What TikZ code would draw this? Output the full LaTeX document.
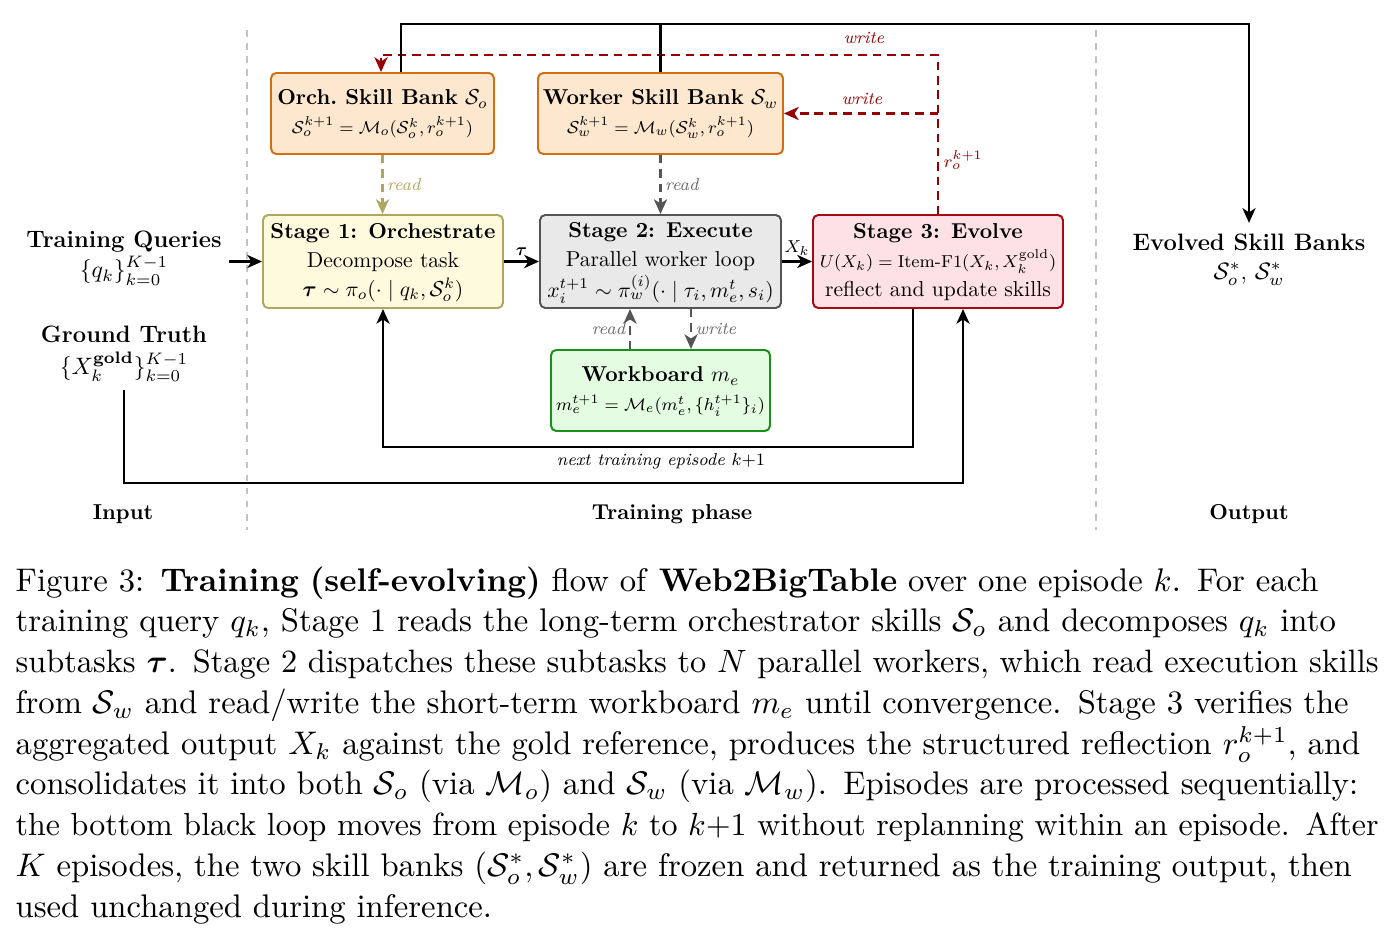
\RequirePackage{fix-cm}
\documentclass[tikz,border=0pt]{standalone}
\usepackage{amsmath,amssymb,bm,graphicx}
\usetikzlibrary{arrows.meta,calc}
\definecolor{cOrD}{RGB}{212,110,20}
\definecolor{cOrF}{RGB}{253,231,206}
\definecolor{cYeD}{RGB}{176,166,96}
\definecolor{cYeF}{RGB}{253,250,222}
\definecolor{cGrD}{RGB}{85,85,85}
\definecolor{cGrF}{RGB}{233,233,233}
\definecolor{cReD}{RGB}{165,10,20}
\definecolor{cReF}{RGB}{253,225,228}
\definecolor{cGnD}{RGB}{25,145,25}
\definecolor{cGnF}{RGB}{228,252,225}
\definecolor{cDR}{RGB}{150,0,0}
\definecolor{cLab}{RGB}{105,105,105}
\definecolor{cSep}{RGB}{195,195,195}
% diagram text: 10pt design scaled to 0.66
\newcommand{\dg}[1]{\scalebox{0.66}{\fontsize{10}{13.4}\selectfont\begin{tabular}{@{}c@{}}#1\end{tabular}}}
\newcommand{\dgo}[1]{\scalebox{0.66}{\fontsize{11}{13.4}\selectfont\begin{tabular}{@{}c@{}}#1\end{tabular}}}
\newcommand{\fs}{\fontsize{8}{13.4}\selectfont}
\newcommand{\lbl}[1]{\scalebox{0.66}{\fontsize{8}{9.6}\selectfont\itshape #1}}
\newcommand{\lblm}[1]{\scalebox{0.66}{\fontsize{8}{9.6}\selectfont #1}}
\newcommand{\capline}[1]{\setbox2=\hbox{#1}%
  \ifdim\wd2>\hsize\hbox to\hsize{\resizebox{\hsize}{!}{#1}}\else\hbox to\hsize{#1}\fi}
\tikzset{
  box/.style={draw, rounded corners=1.6pt, line width=0.6pt, inner sep=0pt},
  bsize/.style 2 args={minimum width={#1*0.3058pt}, minimum height={#2*0.3058pt}},
  orchbox/.style={box, draw=cOrD, fill=cOrF},
  yelbox/.style={box, draw=cYeD, fill=cYeF},
  graybox/.style={box, draw=cGrD, fill=cGrF},
  redbox/.style={box, draw=cReD, fill=cReF},
  grnbox/.style={box, draw=cGnD, fill=cGnF},
  outtext/.style={inner sep=2pt},
  seclab/.style={inner sep=0pt},
  blk/.style={line width=0.9pt, draw=black},
  arr/.style={-{Stealth[length=4.5pt,width=4pt,inset=1.3pt]}},
  dsh/.style={line width=0.9pt, dash pattern=on 2.6pt off 1.8pt},
  lab/.style={inner sep=1pt},
  sepline/.style={draw=cSep, line width=0.5pt, dash pattern=on 2pt off 2pt},
}
\begin{document}
\begin{tikzpicture}[x=0.3058pt,y=-0.3058pt]
\useasboundingbox (0,0) rectangle (1397,938);

% separators
\draw[sepline] (247,30) -- (247,530);
\draw[sepline] (1096,30) -- (1096,530);

% boxes
\node[orchbox, bsize={223}{81}] (orch) at (382.5,113.5)
  {\dg{\textbf{Orch.\ Skill Bank} $\mathcal{S}_o$\\{\fs $\mathcal{S}_o^{k+1}=\mathcal{M}_o(\mathcal{S}_o^{k},r_o^{k+1})$}}};
\node[orchbox, bsize={245}{81}] (worker) at (660.5,113.5)
  {\dg{\textbf{Worker Skill Bank} $\mathcal{S}_w$\\{\fs $\mathcal{S}_w^{k+1}=\mathcal{M}_w(\mathcal{S}_w^{k},r_o^{k+1})$}}};
\node[yelbox, bsize={240}{93}] (s1) at (383,261.5)
  {\dg{\textbf{Stage 1: Orchestrate}\\Decompose task\\$\boldsymbol{\tau}\sim\pi_o(\cdot\mid q_k,\mathcal{S}_o^{k})$}};
\node[graybox, bsize={241}{93}] (s2) at (660.5,261.5)
  {\dg{\textbf{Stage 2: Execute}\\Parallel worker loop\\$x_i^{t+1}\sim\pi_w^{(i)}(\cdot\mid\tau_i,m_e^{t},s_i)$}};
\node[redbox, bsize={250}{93}] (s3) at (938,261.5)
  {\dg{\textbf{Stage 3: Evolve}\\{\fs $U(X_k)=\text{Item-F1}(X_k,X_k^{\text{gold}})$}\\reflect and update skills}};
\node[grnbox, bsize={219}{81}] (wb) at (660.5,390.5)
  {\dg{\textbf{Workboard} $m_e$\\{\fs $m_e^{t+1}=\mathcal{M}_e(m_e^{t},\{h_i^{t+1}\}_i)$}}};

% outer texts
\node[outtext] (tq) at (124,257) {\dgo{\textbf{Training Queries}\\$\{q_k\}_{k=0}^{K-1}$}};
\node[outtext] (gt) at (124,353) {\dgo{\textbf{Ground Truth}\\$\{X_k^{\mathbf{gold}}\}_{k=0}^{K-1}$}};
\node[outtext] (out) at (1249,259) {\dgo{\textbf{Evolved Skill Banks}\\$\mathcal{S}_o^{*}$, $\mathcal{S}_w^{*}$}};

\node[seclab] (lin) at (123,514) {\dg{\textbf{Input}}};
\node[seclab] (ltr) at (672,514) {\dg{\textbf{Training phase}}};
\node[seclab] (lout) at (1249,514) {\dg{\textbf{Output}}};

% main flow
\draw[blk,arr] (tq.east |- s1.west) -- (s1.west);
\draw[blk,arr] (s1.east) -- node[above, inner sep=1.5pt] {\lblm{$\boldsymbol{\tau}$}} (s2.west);
\draw[blk,arr] (s2.east) -- node[above, inner sep=1.5pt] {\lblm{$X_k$}} (s3.west);

% reads
\draw[dsh,arr,draw=cYeD] (orch.south) -- node[lab, right, text=cYeD] {\lbl{read}} (orch.south |- s1.north);
\draw[dsh,arr,draw=cGrD] (worker.south) -- node[lab, right, text=cLab] {\lbl{read}} (worker.south |- s2.north);
\draw[dsh,arr,draw=cGrD] ($(wb.north)+(-30.5,0)$) -- node[lab, left, text=cLab] {\lbl{read}} ($(s2.south)+(-30.5,0)$);
\draw[dsh,arr,draw=cGrD] ($(s2.south)+(30.5,0)$) -- node[lab, right, text=cLab] {\lbl{write}} ($(wb.north)+(30.5,0)$);

% red writes
\coordinate (rc) at (938,55);
\draw[dsh,arr,draw=cDR] (s3.north) -- (rc) -| ($(orch.north)+(-1.5,0)$);
\draw[dsh,arr,draw=cDR] (s3.north |- worker.east) -- (worker.east);
\node[lab, text=cDR] (w1) at (864,38) {\lbl{write}};
\node[lab, text=cDR] (w2) at (862,99) {\lbl{write}};
\node[lab, text=cDR, right] (rl) at (940,160) {\lblm{$r_o^{k+1}$}};

% top black to output
\coordinate (tp) at (1249,24);
\draw[blk,arr] ($(orch.north)+(18.5,0)$) |- (tp) -- (out.north);
\draw[blk] (worker.north) -- (worker.north |- tp);

% bottom loop
\draw[blk,arr] ($(s3.south)+(-25,0)$) -- ++(0,138) -| (s1.south);
\node[lab] (nl) at (661,461) {\lbl{next training episode $k{+}1$}};

% ground truth
\coordinate (gb) at (0,483);
\draw[blk,arr] (gt.south) -- (gt.south |- gb) -| ($(s3.south)+(25,0)$);

% caption
\node[anchor=north west, inner sep=0pt, text width=416.8pt, align=left, font=\fontsize{10}{12.46}\selectfont] (cap) at (15,566) {%
\capline{Figure 3: \textbf{Training (self-evolving)} flow of \textbf{Web2BigTable} over one episode $k$. For each}
\capline{training query $q_k$, Stage 1 reads the long-term orchestrator skills $\mathcal{S}_o$ and decomposes $q_k$ into}
\capline{subtasks $\boldsymbol{\tau}$. Stage 2 dispatches these subtasks to $N$ parallel workers, which read execution skills}
\capline{from $\mathcal{S}_w$ and read/write the short-term workboard $m_e$ until convergence. Stage 3 verifies the}
\capline{aggregated output $X_k$ against the gold reference, produces the structured reflection $r_o^{k+1}$, and}
\capline{consolidates it into both $\mathcal{S}_o$ (via $\mathcal{M}_o$) and $\mathcal{S}_w$ (via $\mathcal{M}_w$). Episodes are processed sequentially:}
\capline{the bottom black loop moves from episode $k$ to $k{+}1$ without replanning within an episode. After}
\capline{$K$ episodes, the two skill banks $(\mathcal{S}_o^{*},\mathcal{S}_w^{*})$ are frozen and returned as the training output, then}
\capline{used unchanged during inference.\hfil}};
\end{tikzpicture}
\end{document}
